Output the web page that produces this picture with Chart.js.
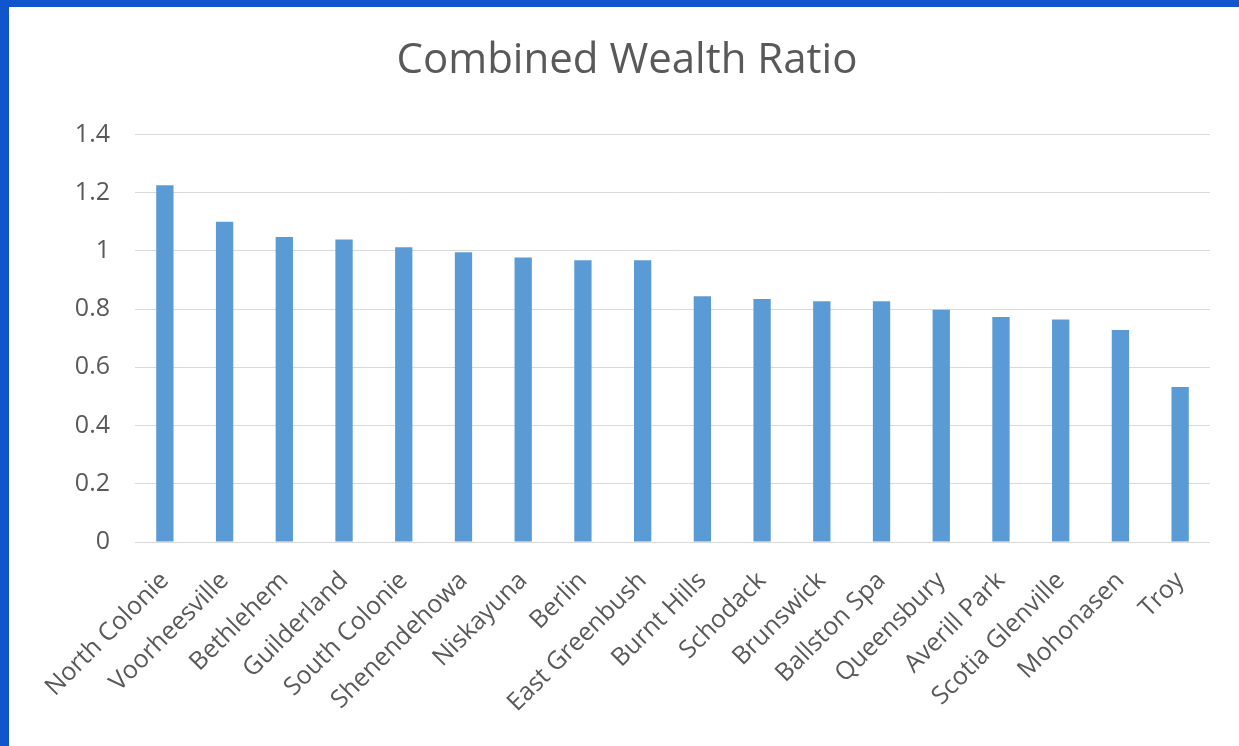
<!DOCTYPE html>
<html lang="en">
<head>
    <meta charset="UTF-8">
    <title>Combined Wealth Ratio</title>
    <script src="https://cdn.jsdelivr.net/npm/chart.js"></script>
    <style>
        html, body {
            margin: 0;
            padding: 0;
            width: 1239px;
            height: 746px;
            overflow: hidden;
            background-color: #1155cc;
        }
        .panel {
            position: absolute;
            left: 9px;
            top: 7px;
            width: 1230px;
            height: 739px;
            background-color: #ffffff;
        }
    </style>
</head>
<body>
    <div class="panel">
        <canvas id="wealthChart" width="1230" height="739"></canvas>
    </div>

    <script>
        // district names along the x axis
        const districts = [
            'North Colonie', 'Voorheesville', 'Bethlehem', 'Guilderland', 'South Colonie',
            'Shenendehowa', 'Niskayuna', 'Berlin', 'East Greenbush', 'Burnt Hills',
            'Schodack', 'Brunswick', 'Ballston Spa', 'Queensbury', 'Averill Park',
            'Scotia Glenville', 'Mohonasen', 'Troy'
        ];
        // combined wealth ratio per district
        const wealthRatio = [
            1.225, 1.10, 1.048, 1.039, 1.012,
            0.995, 0.977, 0.968, 0.968, 0.844,
            0.835, 0.827, 0.827, 0.798, 0.773,
            0.764, 0.728, 0.532
        ];
        const yTickValues = [0, 0.2, 0.4, 0.6, 0.8, 1, 1.2, 1.4];

        const labelFont = '"Open Sans", "Segoe UI", sans-serif';
        const textGrey = '#595959';

        new Chart(document.getElementById('wealthChart'), {
            type: 'bar',
            data: {
                labels: districts,
                datasets: [{
                    label: 'Combined Wealth Ratio',
                    data: wealthRatio,
                    backgroundColor: '#5b9bd5',
                    borderWidth: 0,
                    barPercentage: 0.29,
                    categoryPercentage: 1
                }]
            },
            options: {
                responsive: false,
                animation: false,
                layout: {
                    // left/right padding also keeps the title centred on the panel
                    padding: { left: 35, right: 29, top: 0, bottom: 0 }
                },
                plugins: {
                    legend: { display: false },
                    tooltip: { enabled: false },
                    title: {
                        display: true,
                        text: 'Combined Wealth Ratio',
                        color: textGrey,
                        font: { family: labelFont, size: 42, weight: 'normal', lineHeight: 1.2 },
                        padding: { top: 29, bottom: 48 }
                    }
                },
                scales: {
                    x: {
                        grid: { display: false },
                        border: { display: false },
                        ticks: {
                            color: textGrey,
                            font: { family: labelFont, size: 25 },
                            minRotation: 45,
                            maxRotation: 45,
                            autoSkip: false,
                            padding: 16
                        },
                        afterFit: function (scale) {
                            scale.height = 204;
                        }
                    },
                    y: {
                        min: 0,
                        max: 1.4,
                        grid: { color: '#d9d9d9', lineWidth: 1, drawTicks: false },
                        border: { display: false },
                        ticks: {
                            color: textGrey,
                            font: { family: labelFont, size: 25 },
                            padding: 25,
                            callback: v => String(v)
                        },
                        afterBuildTicks: function (scale) {
                            scale.ticks = yTickValues.map(v => ({ value: v }));
                        },
                        afterFit: function (scale) {
                            scale.width = 91;
                        }
                    }
                }
            }
        });
    </script>
</body>
</html>
